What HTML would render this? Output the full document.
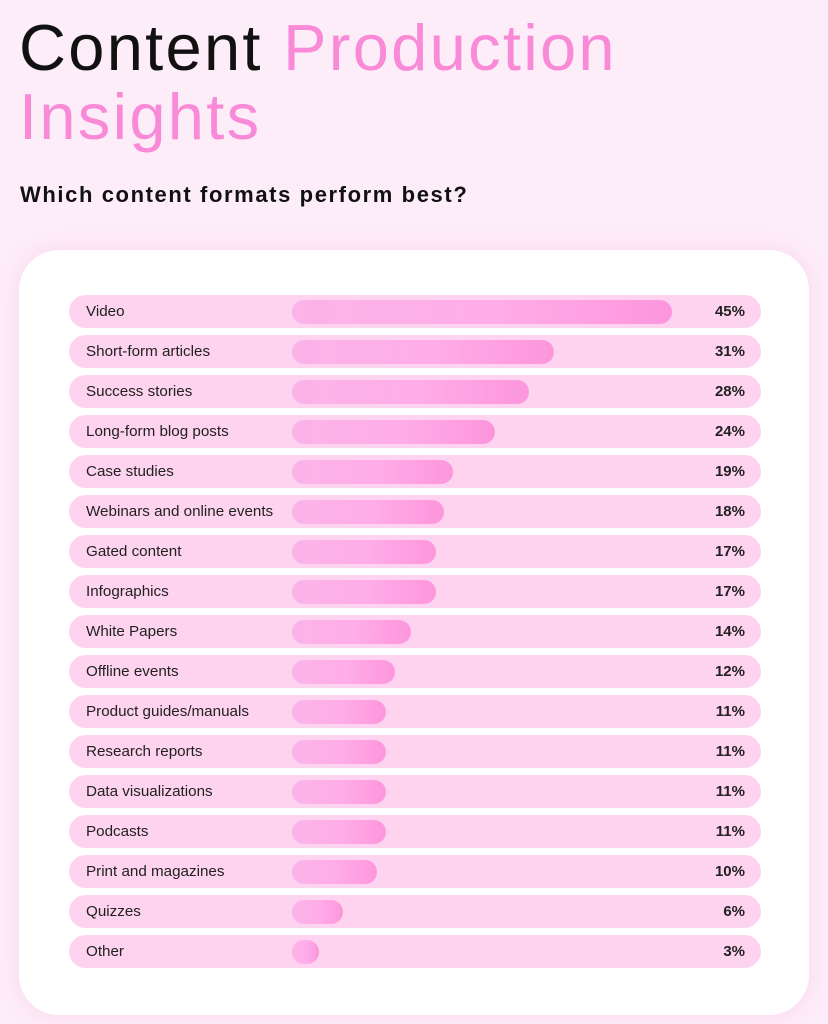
<!DOCTYPE html>
<html><head><style>
body{margin:0;width:828px;height:1024px;background:#fdedf8;font-family:"Liberation Sans",sans-serif;position:relative;overflow:hidden}
.t{position:absolute;left:19px;font-size:65px;letter-spacing:2.3px;line-height:1}
.sub{position:absolute;left:20px;top:182px;font-size:22px;font-weight:bold;color:#111;letter-spacing:1.6px}
.card{position:absolute;left:19px;top:250px;width:790px;height:765px;background:#fff;border-radius:40px;box-shadow:0 0 20px rgba(250,180,220,.4)}
.row{position:absolute;left:69px;width:692px;height:33px;background:#fdd3ef;border-radius:17px}
.row .l{position:absolute;left:17px;top:8px;font-size:15.2px;color:#222}
.row .p{position:absolute;right:16px;top:8px;font-size:15px;font-weight:bold;color:#222}
.row .b{position:absolute;left:223px;top:5px;height:24px;border-radius:12px;background:linear-gradient(90deg,#fcb3e8,#ffaee9 50%,#fd96dc)}
</style></head><body>
<div class="t" style="top:15px;color:#111">Content <span style="color:#f98ad8">Production</span></div>
<div class="t" style="top:84px;color:#f98ad8">Insights</div>
<div class="sub">Which content formats perform best?</div>
<div class="card"></div>
<div class="row" style="top:295px"><span class="l">Video</span><div class="b" style="width:380px"></div><span class="p">45%</span></div>
<div class="row" style="top:335px"><span class="l">Short-form articles</span><div class="b" style="width:262px"></div><span class="p">31%</span></div>
<div class="row" style="top:375px"><span class="l">Success stories</span><div class="b" style="width:237px"></div><span class="p">28%</span></div>
<div class="row" style="top:415px"><span class="l">Long-form blog posts</span><div class="b" style="width:203px"></div><span class="p">24%</span></div>
<div class="row" style="top:455px"><span class="l">Case studies</span><div class="b" style="width:161px"></div><span class="p">19%</span></div>
<div class="row" style="top:495px"><span class="l">Webinars and online events</span><div class="b" style="width:152px"></div><span class="p">18%</span></div>
<div class="row" style="top:535px"><span class="l">Gated content</span><div class="b" style="width:144px"></div><span class="p">17%</span></div>
<div class="row" style="top:575px"><span class="l">Infographics</span><div class="b" style="width:144px"></div><span class="p">17%</span></div>
<div class="row" style="top:615px"><span class="l">White Papers</span><div class="b" style="width:119px"></div><span class="p">14%</span></div>
<div class="row" style="top:655px"><span class="l">Offline events</span><div class="b" style="width:103px"></div><span class="p">12%</span></div>
<div class="row" style="top:695px"><span class="l">Product guides/manuals</span><div class="b" style="width:94px"></div><span class="p">11%</span></div>
<div class="row" style="top:735px"><span class="l">Research reports</span><div class="b" style="width:94px"></div><span class="p">11%</span></div>
<div class="row" style="top:775px"><span class="l">Data visualizations</span><div class="b" style="width:94px"></div><span class="p">11%</span></div>
<div class="row" style="top:815px"><span class="l">Podcasts</span><div class="b" style="width:94px"></div><span class="p">11%</span></div>
<div class="row" style="top:855px"><span class="l">Print and magazines</span><div class="b" style="width:85px"></div><span class="p">10%</span></div>
<div class="row" style="top:895px"><span class="l">Quizzes</span><div class="b" style="width:51px"></div><span class="p">6%</span></div>
<div class="row" style="top:935px"><span class="l">Other</span><div class="b" style="width:27px"></div><span class="p">3%</span></div>
</body></html>
